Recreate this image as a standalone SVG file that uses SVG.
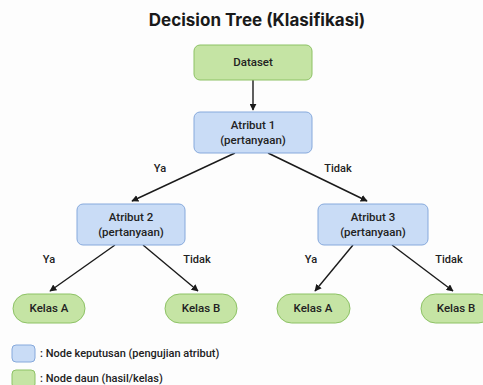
<svg xmlns="http://www.w3.org/2000/svg" width="483" height="385" viewBox="0 0 483 385">
<defs>
<marker id="ah" viewBox="0 0 10 10" refX="9" refY="5" markerWidth="7" markerHeight="7" markerUnits="userSpaceOnUse" orient="auto">
<path d="M0,0 L10,5 L0,10 z" fill="#1a1a1a"/>
</marker>
<style>
.t{font-family:Roboto,"Noto Sans",sans-serif;font-size:11.5px;font-weight:500;fill:#222;text-anchor:middle}
.lbl{font-family:Roboto,"Noto Sans",sans-serif;font-size:11px;font-weight:500;fill:#222;text-anchor:middle}
.leg{font-family:Roboto,"Noto Sans",sans-serif;font-size:11px;font-weight:500;fill:#222}
.blue{fill:#c9dcf6;stroke:#86a9dc;stroke-width:1}
.green{fill:#c5e4a4;stroke:#8dc265;stroke-width:1}
.e{stroke:#1a1a1a;stroke-width:1.4;fill:none;marker-end:url(#ah)}
</style>
</defs>
<rect width="483" height="385" fill="#fdfdfd"/>
<text x="257" y="26" font-family="Inter,Roboto,sans-serif" font-size="17" font-weight="bold" fill="#1a1a1a" text-anchor="middle">Decision Tree (Klasifikasi)</text>
<g id="connectors">
<line class="e" x1="253" y1="80" x2="253" y2="110"/>
<line class="e" x1="235" y1="153" x2="132" y2="201"/>
<line class="e" x1="268" y1="153" x2="367" y2="201"/>
<line class="e" x1="115" y1="245" x2="50" y2="291"/>
<line class="e" x1="143" y1="245" x2="198" y2="291"/>
<line class="e" x1="353" y1="245" x2="315" y2="291"/>
<line class="e" x1="392" y1="245" x2="453" y2="291"/>
<text class="lbl" x="160" y="172">Ya</text>
<text class="lbl" x="338" y="172">Tidak</text>
<text class="lbl" x="49" y="263">Ya</text>
<text class="lbl" x="197" y="263">Tidak</text>
<text class="lbl" x="311" y="263">Ya</text>
<text class="lbl" x="449" y="263">Tidak</text>
</g>
<g id="dataset">
<rect class="green" x="194" y="45" width="118" height="35" rx="6"/>
<text class="t" x="253" y="66">Dataset</text>
</g>
<g id="atribut1">
<rect class="blue" x="194" y="112" width="118" height="41" rx="6"/>
<text class="t" x="253" y="129">Atribut 1</text>
<text class="t" x="253" y="144">(pertanyaan)</text>
</g>
<g id="atribut2">
<rect class="blue" x="77" y="204" width="108" height="41" rx="6"/>
<text class="t" x="131" y="221">Atribut 2</text>
<text class="t" x="131" y="236">(pertanyaan)</text>
</g>
<g id="atribut3">
<rect class="blue" x="318" y="204" width="110" height="41" rx="6"/>
<text class="t" x="373" y="221">Atribut 3</text>
<text class="t" x="373" y="236">(pertanyaan)</text>
</g>
<g id="kelasA1">
<rect class="green" x="13" y="294" width="72" height="29" rx="14.5"/>
<text class="t" x="49" y="312">Kelas A</text>
</g>
<g id="kelasB1">
<rect class="green" x="165" y="294" width="72" height="29" rx="14.5"/>
<text class="t" x="201" y="312">Kelas B</text>
</g>
<g id="kelasA2">
<rect class="green" x="277" y="294" width="73" height="29" rx="14.5"/>
<text class="t" x="313" y="312">Kelas A</text>
</g>
<g id="kelasB2">
<rect class="green" x="421" y="294" width="72" height="29" rx="14.5"/>
<text class="t" x="456" y="312">Kelas B</text>
</g>
<g id="legend">
<rect class="blue" x="12" y="345" width="23" height="17" rx="4"/>
<text class="leg" x="40" y="357">: Node keputusan (pengujian atribut)</text>
<rect class="green" x="12" y="370" width="23" height="18" rx="4"/>
<text class="leg" x="40" y="382">: Node daun (hasil/kelas)</text>
</g>
</svg>
